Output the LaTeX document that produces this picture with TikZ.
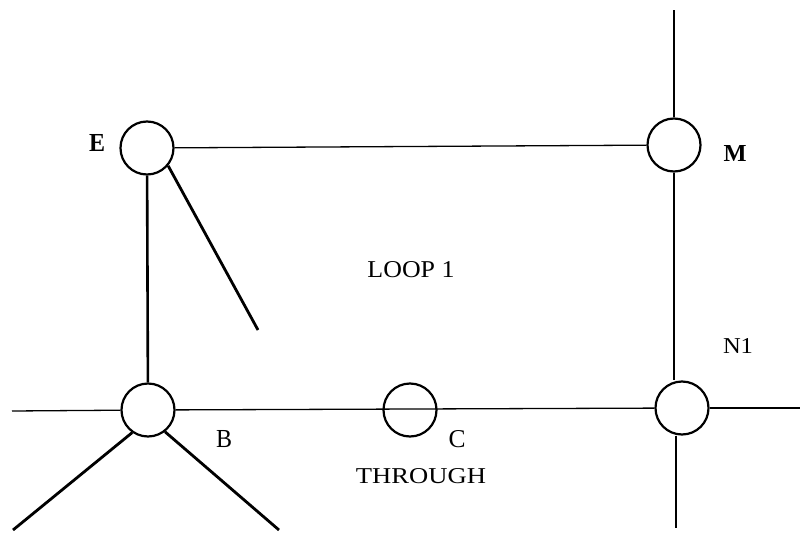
\documentclass[tikz,border=0pt]{standalone}
\usepackage{fontspec}
\usepackage{graphicx}
\setmainfont{Liberation Serif}
\begin{document}
\begin{tikzpicture}[x=1pt,y=-1pt,
  junction/.style={circle,draw,line width=2.2pt,minimum size=53pt,inner sep=0pt},
  hline/.style={line width=1.3pt},
  vline/.style={line width=2.6pt},
  dline/.style={line width=2.8pt},
  lbl/.style={inner sep=0pt}]
\useasboundingbox (0,0) rectangle (801,538);
% junctions
\node[junction] (E) at (147,148) {};
\node[junction] (M) at (674,145) {};
\node[junction] (N1) at (682,408) {};
\node[junction] (B) at (148,410) {};
\node[junction] (C) at (410,410) {};
% free ends
\coordinate (top) at (674,10);
\coordinate (left) at (12,411);
\coordinate (right) at (800,408);
\coordinate (nb) at (676,528);
\coordinate (dend) at (258,330);
\coordinate (bl) at (13,530);
\coordinate (br) at (279,530);
% connectors
\draw[vline] (M) -- (top);
\draw[hline] (E) -- (M);
\draw[vline] (E) -- (B);
\draw[vline] (M) -- (M |- N1.north);
\draw[vline] (nb |- N1.south) -- (nb);
\draw[hline] (left) -- (B);
\draw[hline] (B) -- (N1);
\draw[hline] (N1) -- (right);
\draw[dline] (E.-40) -- (dend);
\draw[dline] (B.-125) -- (bl);
\draw[dline] (B.-52) -- (br);
% labels
\node[lbl] (lE) at (97,143) {\resizebox{16pt}{17pt}{\bfseries E}};
\node[lbl] (lM) at (735,153) {\resizebox{23pt}{16pt}{\bfseries M}};
\node[lbl] (lN) at (738,346) {\resizebox{30pt}{15pt}{N1}};
\node[lbl] (lB) at (224,439) {\resizebox{16pt}{17pt}{B}};
\node[lbl] (lC) at (457,439) {\resizebox{17pt}{17pt}{C}};
\node[lbl] (lT) at (421,476) {\resizebox{130pt}{15pt}{THROUGH}};
\node[lbl] (lL) at (411,270) {\resizebox{87pt}{16pt}{LOOP 1}};
\end{tikzpicture}
\end{document}
